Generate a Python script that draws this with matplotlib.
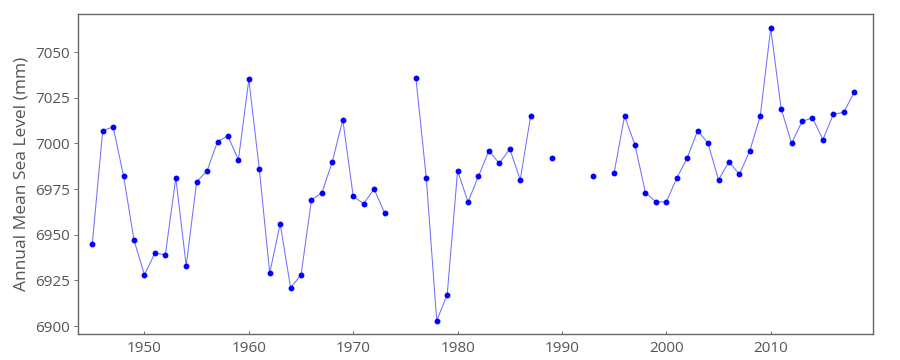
import numpy as np
import matplotlib
matplotlib.use("Agg")
import matplotlib.pyplot as plt

# -------------------------------------------------
# Data (annual mean sea level, mm) - gaps are NaN
# -------------------------------------------------
years = list(range(1945, 2019))
sea_level = [
    6945, 7007, 7009, 6982, 6947, 6928, 6940, 6939, 6981, 6933,   # 1945-1954
    6979, 6985, 7001, 7004, 6991, 7035, 6986, 6929, 6956, 6921,   # 1955-1964
    6928, 6969, 6973, 6990, 7013, 6971, 6967, 6975, 6962, np.nan, # 1965-1974
    np.nan, 7036, 6981, 6903, 6917, 6985, 6968, 6982, 6996, 6989, # 1975-1984
    6997, 6980, 7015, np.nan, 6992, np.nan, np.nan, np.nan, 6982, np.nan,  # 1985-1994
    6984, 7015, 6999, 6973, 6968, 6968, 6981, 6992, 7007, 7000,   # 1995-2004
    6980, 6990, 6983, 6996, 7015, 7063, 7019, 7000, 7012, 7014,   # 2005-2014
    7002, 7016, 7017, 7028,                                       # 2015-2018
]

plt.rcParams["font.family"] = ["Open Sans", "DejaVu Sans"]

fig = plt.figure(figsize=(9, 3.6), dpi=100)
ax = fig.add_axes([0.087, 0.072, 0.883, 0.889])

ax.plot(years, sea_level, color="#7070ff", linewidth=0.75, zorder=2)
ax.plot(years, sea_level, linestyle="none", marker="o", markersize=3.2,
        color="#0000ff", zorder=3)

ax.set_xlim(1943.66, 2019.8)
ax.set_ylim(6895.6, 7070.8)
ax.set_xticks([1950, 1960, 1970, 1980, 1990, 2000, 2010])
ax.set_yticks([6900, 6925, 6950, 6975, 7000, 7025, 7050])
ax.set_ylabel("Annual Mean Sea Level (mm)", fontsize=12.5, color="#555555")

for s in ax.spines.values():
    s.set_color("#666666")
    s.set_linewidth(1.0)
ax.tick_params(colors="#555555", labelsize=11, width=0.6)
ax.tick_params(axis="x", direction="in", length=2, pad=5)
ax.tick_params(axis="y", direction="out", length=3, pad=3)

fig.savefig("out.png", dpi=100)
